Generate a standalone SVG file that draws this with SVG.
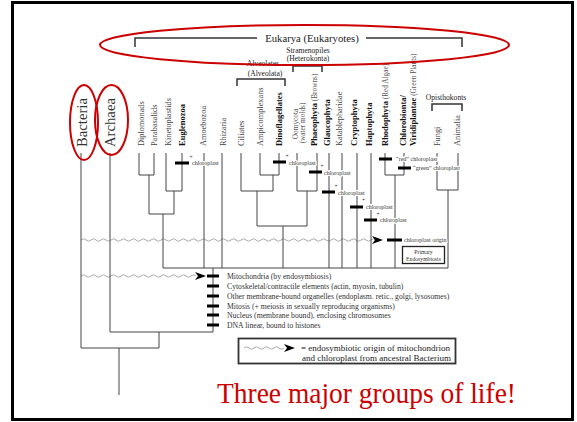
<svg xmlns="http://www.w3.org/2000/svg" width="577" height="422" viewBox="0 0 577 422">
<style>
.ln{stroke:#444;stroke-width:1;fill:none}
.br{stroke:#333;stroke-width:1.5;fill:none}
.bar{stroke:#000;stroke-width:3;fill:none}
.wv{stroke:#aaa;stroke-width:1;fill:none}
.lab{font-family:"Liberation Serif",serif;font-size:8.3px;fill:#444}
.bld{font-family:"Liberation Serif",serif;font-size:8.5px;font-weight:bold;fill:#111}
.par{font-family:"Liberation Serif",serif;font-size:7.3px;fill:#555;font-weight:normal}
.sm{font-family:"Liberation Serif",serif;font-size:6px;fill:#333;stroke:#fff;stroke-width:2;paint-order:stroke}
.pl{font-family:"Liberation Serif",serif;font-size:5.5px;fill:#333}
.leg{font-family:"Liberation Serif",serif;font-size:7.7px;fill:#333}
.grp{font-family:"Liberation Serif",serif;font-size:7.6px;fill:#222}
.red{stroke:#cc0000;stroke-width:2;fill:none}
</style>
<defs>
<path id="ah" d="M-11,-4 L0,0 L-11,4 L-8,0 Z" fill="#000"/>
</defs>
<rect x="12.5" y="2.5" width="560" height="417" fill="none" stroke="#000" stroke-width="3"/>

<g id="eukarya-bracket">
<path class="br" d="M135,47 V38 H257 M366,38 H462 V47"/>
<text x="312" y="42" text-anchor="middle" font-family="Liberation Serif,serif" font-size="10.7" fill="#222">Eukarya (Eukaryotes)</text>
</g>
<g id="alveolates">
<text class="grp" x="263" y="66" text-anchor="middle">Alveolates</text>
<text class="grp" x="265" y="76" text-anchor="middle" font-size="8.5">(Alveolata)</text>
<path class="br" d="M237,86 V79 H285 V86"/>
</g>
<g id="stramenopiles">
<text class="grp" x="308" y="53" text-anchor="middle">Stramenopiles</text>
<text class="grp" x="308" y="61" text-anchor="middle">(Heterokonta)</text>
<path class="br" d="M293,72 V66 H322 V72"/>
</g>
<g id="opisthokonts">
<text class="grp" x="446" y="100" text-anchor="middle">Opisthokonts</text>
<path class="br" d="M432,111 V104 H462 V111"/>
</g>

<g id="bacteria"><text transform="translate(87,147) rotate(-90)" font-family="Liberation Serif,serif" font-size="14.7" fill="#333">Bacteria</text></g>
<g id="archaea"><text transform="translate(115,147) rotate(-90)" font-family="Liberation Serif,serif" font-size="14.7" fill="#333">Archaea</text></g>

<g id="labels">
<text class="lab" transform="translate(143.6,146) rotate(-90)">Diplomonads</text>
<text class="lab" transform="translate(156.6,146) rotate(-90)">Parabasalids</text>
<text class="lab" transform="translate(170.6,146) rotate(-90)">Kinetoplastids</text>
<text class="bld" transform="translate(184.6,146) rotate(-90)">Euglenozoa</text>
<text class="lab" transform="translate(205.6,146) rotate(-90)">Amoebozoa</text>
<text class="lab" transform="translate(225.6,146) rotate(-90)">Rhizaria</text>
<text class="lab" transform="translate(243.6,146) rotate(-90)">Ciliates</text>
<text class="lab" transform="translate(262.6,146) rotate(-90)">Ampicomplexans</text>
<text class="bld" transform="translate(281.6,146) rotate(-90)">Dinoflagellates</text>
<text class="par" text-anchor="middle" transform="translate(297.5,124) rotate(-90)">Oomycota</text>
<text class="par" text-anchor="middle" transform="translate(304.5,123) rotate(-90)">(water molds)</text>
<text class="bld" transform="translate(316.6,146) rotate(-90)">Phaeophyta<tspan class="par"> (Browns)</tspan></text>
<text class="bld" transform="translate(329.6,146) rotate(-90)">Glaucophyta</text>
<text class="lab" transform="translate(341.6,146) rotate(-90)">Katablepharidae</text>
<text class="bld" transform="translate(356.6,146) rotate(-90)">Cryptophyta</text>
<text class="bld" transform="translate(371.6,146) rotate(-90)">Haptophyta</text>
<text class="bld" transform="translate(387.6,146) rotate(-90)">Rhodophyta<tspan class="par" font-size="7.5"> (Red Algae)</tspan></text>
<text class="bld" transform="translate(405.6,146) rotate(-90)">Chlorobionta/</text>
<text class="bld" transform="translate(415.6,146) rotate(-90)">Viridiplantae<tspan class="par" font-size="7.5"> (Green Plants)</tspan></text>
<text class="lab" transform="translate(439.6,146) rotate(-90)">Fungi</text>
<text class="lab" transform="translate(459.6,146) rotate(-90)">Animalia</text>
</g>

<g id="connectors">
<path class="wv" d="M81,240 q2.5,-2.5 5,0 t5,0 5,0 5,0 5,0 5,0 5,0 5,0 5,0 5,0 5,0 5,0 5,0 5,0 5,0 5,0 5,0 5,0 5,0 5,0 5,0 5,0 5,0 5,0 5,0 5,0 5,0 5,0 5,0 5,0 5,0 5,0 5,0 5,0 5,0 5,0 5,0 5,0 5,0 5,0 5,0 5,0 5,0 5,0 5,0 5,0 5,0 5,0 5,0 5,0 5,0 5,0 5,0 5,0 5,0 5,0 5,0 5,0 5,0 5,0"/>
<path class="wv" d="M81,276 q2.5,-2.5 5,0 t5,0 5,0 5,0 5,0 5,0 5,0 5,0 5,0 5,0 5,0 5,0 5,0 5,0 5,0 5,0 5,0 5,0 5,0 5,0 5,0 5,0 5,0"/>
<use href="#ah" x="383" y="240"/>
<use href="#ah" x="206" y="276"/>
<!-- Bacteria / Archaea / root -->
<path class="ln" d="M81,153 V348 M110,153 V332 H213 M159,332 V348 M81,348 H159 M119,348 V395"/>
<!-- Eukarya stem and crown -->
<path class="ln" d="M213,268 V332 M163,268 H448"/>
<!-- Excavate clade -->
<path class="ln" d="M139,153 V175 H154 V153 M149,175 V214 M166,153 V191 H182 V153 M174,191 V214 M149,214 H174 M163,214 V268"/>
<path class="ln" d="M204,153 V268 M222,153 V268"/>
<!-- Alveolates + Stramenopiles -->
<path class="ln" d="M241,153 V191 H273 M260,153 V175 H279 V153 M273,175 V191 M257,191 V226 H307 M297,153 V191 H317 V153 M307,191 V226 M283,226 V268"/>
<!-- others -->
<path class="ln" d="M329,153 V268 M342,153 V268 M357,153 V268 M371,153 V268"/>
<path class="ln" d="M385,153 V175 H404 V153 M395,175 V268"/>
<path class="ln" d="M437,153 V190 H458 V153 M448,190 V268"/>
</g>

<g id="chloroplast-events">
<path class="bar" d="M175,163 H189 M273,162 H286 M309,172 H322 M322,192 H335 M350,207 H363 M364,220 H377 M379,159 H392 M398,168 H411 M387,240 H402"/>
<text class="pl" x="189.5" y="159">+</text><text class="sm" x="192" y="165">chloroplast</text>
<text class="pl" x="285.5" y="158">+</text><text class="sm" x="289" y="165">chloroplast</text>
<text class="pl" x="320.5" y="168">+</text><text class="sm" x="324" y="175">chloroplast</text>
<text class="pl" x="334.5" y="188">+</text><text class="sm" x="338" y="195">chloroplast</text>
<text class="pl" x="362" y="202">+</text><text class="sm" x="366" y="209">chloroplast</text>
<text class="pl" x="376.5" y="216">+</text><text class="sm" x="380" y="222">chloroplast</text>
<text class="sm" x="396" y="161">“red” chloroplast</text>
<text class="sm" x="413" y="170">“green” chloroplast</text>
<text class="sm" x="404" y="242" font-size="6.2">chloroplast origin</text>
</g>

<g id="primary-endosymbiosis">
<rect x="402.5" y="246.5" width="42" height="17" fill="#fff" stroke="#222" stroke-width="1.3"/>
<text x="423.5" y="253.5" text-anchor="middle" font-family="Liberation Serif,serif" font-size="5.7" fill="#333">Primary</text>
<text x="423.5" y="260.5" text-anchor="middle" font-family="Liberation Serif,serif" font-size="5.7" fill="#333">Endosymbiosis</text>
</g>

<g id="eukarya-traits">
<path class="bar" d="M207,276 H219 M207,286 H219 M207,296 H219 M207,306 H219 M207,315 H219 M207,325 H219"/>
<text class="leg" x="227" y="278.5">Mitochondria (by endosymbiosis)</text>
<text class="leg" x="227" y="288.5">Cytoskeletal/contractile elements (actin, myosin, tubulin)</text>
<text class="leg" x="227" y="298.5">Other membrane-bound organelles (endoplasm. retic., golgi, lysosomes)</text>
<text class="leg" x="227" y="308.5">Mitosis (+ meiosis in sexually reproducing organisms)</text>
<text class="leg" x="227" y="317.5">Nucleus (membrane bound), enclosing chromosomes</text>
<text class="leg" x="227" y="327.5">DNA linear, bound to histones</text>
</g>

<g id="legend">
<rect x="238.5" y="338.5" width="217" height="25" fill="#fff" stroke="#333" stroke-width="1.8"/>
<path class="wv" d="M244,348 q2.5,-2.5 5,0 t5,0 5,0 5,0 5,0 5,0 5,0 5,0"/>
<use href="#ah" x="295" y="348"/>
<text x="301" y="351" font-family="Liberation Serif,serif" font-size="9" fill="#222">= endosymbiotic origin of mitochondrion</text>
<text x="302" y="360.5" font-family="Liberation Serif,serif" font-size="9" fill="#222">and chloroplast from ancestral Bacterium</text>
</g>

<g id="highlights">
<ellipse class="red" cx="304.5" cy="45" rx="204.5" ry="20"/>
<ellipse class="red" cx="84" cy="122.5" rx="14" ry="37.5"/>
<ellipse class="red" cx="111.5" cy="120" rx="16.5" ry="35"/>
</g>

<text x="217" y="403" font-family="Liberation Serif,serif" font-size="29" fill="#cc0000" textLength="299" lengthAdjust="spacingAndGlyphs">Three major groups of life!</text>
</svg>
